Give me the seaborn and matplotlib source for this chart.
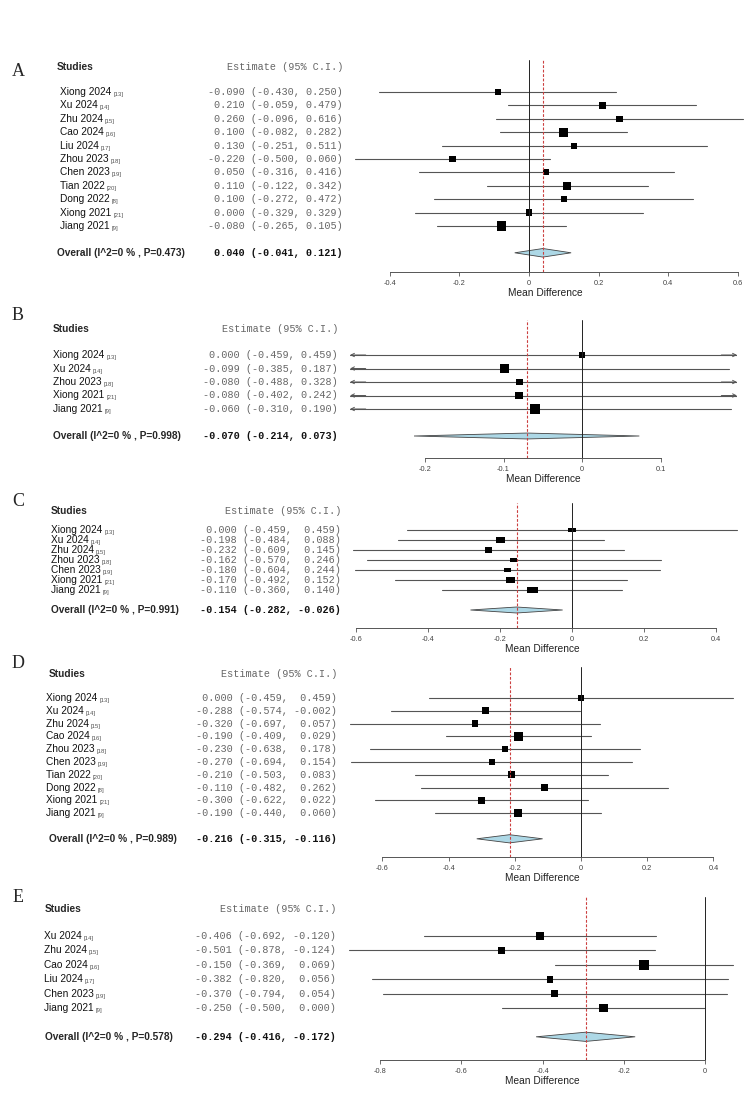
import matplotlib
matplotlib.use("Agg")
import matplotlib.pyplot as plt
from matplotlib import transforms
from matplotlib.patches import Polygon
from matplotlib.markers import MarkerStyle
import pandas as pd
import seaborn as sns

sns.set_theme(style="white")
plt.rcParams['font.family'] = ['Liberation Sans', 'DejaVu Sans']

# ---- panel A ----
a_studies = ['Xiong 2024', 'Xu 2024', 'Zhu 2024', 'Cao 2024', 'Liu 2024', 'Zhou 2023',
             'Chen 2023', 'Tian 2022', 'Dong 2022', 'Xiong 2021', 'Jiang 2021']
a_refs = ['13', '14', '15', '16', '17', '18', '19', '20', '8', '21', '9']
a_est = [-0.090, 0.210, 0.260, 0.100, 0.130, -0.220, 0.050, 0.110, 0.100, 0.000, -0.080]
a_lo = [-0.430, -0.059, -0.096, -0.082, -0.251, -0.500, -0.316, -0.122, -0.272, -0.329, -0.265]
a_hi = [0.250, 0.479, 0.616, 0.282, 0.511, 0.060, 0.416, 0.342, 0.472, 0.329, 0.105]
a_overall = [0.040, -0.041, 0.121]
a_p = 0.473
a_ticks = [-0.4, -0.2, 0, 0.2, 0.4, 0.6]

# ---- panel B ----
b_studies = ['Xiong 2024', 'Xu 2024', 'Zhou 2023', 'Xiong 2021', 'Jiang 2021']
b_refs = ['13', '14', '18', '21', '9']
b_est = [0.000, -0.099, -0.080, -0.080, -0.060]
b_lo = [-0.459, -0.385, -0.488, -0.402, -0.310]
b_hi = [0.459, 0.187, 0.328, 0.242, 0.190]
b_overall = [-0.070, -0.214, 0.073]
b_p = 0.998
b_ticks = [-0.2, -0.1, 0, 0.1]

# ---- panel C ----
c_studies = ['Xiong 2024', 'Xu 2024', 'Zhu 2024', 'Zhou 2023', 'Chen 2023', 'Xiong 2021', 'Jiang 2021']
c_refs = ['13', '14', '15', '18', '19', '21', '9']
c_est = [0.000, -0.198, -0.232, -0.162, -0.180, -0.170, -0.110]
c_lo = [-0.459, -0.484, -0.609, -0.570, -0.604, -0.492, -0.360]
c_hi = [0.459, 0.088, 0.145, 0.246, 0.244, 0.152, 0.140]
c_overall = [-0.154, -0.282, -0.026]
c_p = 0.991
c_ticks = [-0.6, -0.4, -0.2, 0, 0.2, 0.4]

# ---- panel D ----
d_studies = ['Xiong 2024', 'Xu 2024', 'Zhu 2024', 'Cao 2024', 'Zhou 2023', 'Chen 2023',
             'Tian 2022', 'Dong 2022', 'Xiong 2021', 'Jiang 2021']
d_refs = ['13', '14', '15', '16', '18', '19', '20', '8', '21', '9']
d_est = [0.000, -0.288, -0.320, -0.190, -0.230, -0.270, -0.210, -0.110, -0.300, -0.190]
d_lo = [-0.459, -0.574, -0.697, -0.409, -0.638, -0.694, -0.503, -0.482, -0.622, -0.440]
d_hi = [0.459, -0.002, 0.057, 0.029, 0.178, 0.154, 0.083, 0.262, 0.022, 0.060]
d_overall = [-0.216, -0.315, -0.116]
d_p = 0.989
d_ticks = [-0.6, -0.4, -0.2, 0, 0.2, 0.4]

# ---- panel E ----
e_studies = ['Xu 2024', 'Zhu 2024', 'Cao 2024', 'Liu 2024', 'Chen 2023', 'Jiang 2021']
e_refs = ['14', '15', '16', '17', '19', '9']
e_est = [-0.406, -0.501, -0.150, -0.382, -0.370, -0.250]
e_lo = [-0.692, -0.878, -0.369, -0.820, -0.794, -0.500]
e_hi = [-0.120, -0.124, 0.069, 0.056, 0.054, 0.000]
e_overall = [-0.294, -0.416, -0.172]
e_p = 0.578
e_ticks = [-0.8, -0.6, -0.4, -0.2, 0]

W, H = 750, 1107
fig = plt.figure(figsize=(W / 100, H / 100), dpi=100)
fig.patch.set_facecolor('white')

SQUARE = MarkerStyle('s')
WIDE = MarkerStyle([(-1, -0.65), (1, -0.65), (1, 0.65), (-1, 0.65), (-1, -0.65)])


def forest(letter, studies, refs, est, lo, hi, overall, p, ticks, lay):
    top, axis, row0, step = lay['top'], lay['axis'], lay['row0'], lay['step']
    x0, scale, left, right = lay['x0'], lay['scale'], lay['left'], lay['right']
    ax = fig.add_axes([left / W, 1 - axis / H, (right - left) / W, (axis - top) / H])
    ax.set_facecolor('none')
    n = len(studies)
    rows = list(range(n))
    xmin, xmax = (left - x0) / scale, (right - x0) / scale

    # box size from inverse-variance weights
    wts = [1 / ((h - l) / 3.92) ** 2 for l, h in zip(lo, hi)]
    df = pd.DataFrame({'est': est, 'row': rows, 'w': wts})
    sns.scatterplot(data=df, x='est', y='row', size='w', sizes=lay['sizes'],
                    marker=lay.get('marker', SQUARE), color='black', edgecolor='black',
                    linewidth=0, legend=False, ax=ax, zorder=4)

    for r, l, h in zip(rows, lo, hi):
        cl, ch = max(l, xmin), min(h, xmax)
        ax.plot([cl, ch], [r, r], color='#555555', lw=0.8, zorder=2)
        if lay.get('arrows'):
            if l < xmin:
                ax.annotate('', xy=(xmin, r), xytext=(xmin + 0.02, r),
                            arrowprops=dict(arrowstyle='->', lw=0.7, color='#555555',
                                            mutation_scale=6, shrinkA=0, shrinkB=0))
            if h > xmax:
                ax.annotate('', xy=(xmax, r), xytext=(xmax - 0.02, r),
                            arrowprops=dict(arrowstyle='->', lw=0.7, color='#555555',
                                            mutation_scale=6, shrinkA=0, shrinkB=0))

    oe, ol, oh = overall
    ro = n + 1
    hd = lay['dh']
    ax.add_patch(Polygon([(ol, ro), (oe, ro - hd), (oh, ro), (oe, ro + hd)], closed=True,
                         facecolor='#ADD8E6', edgecolor='#444444', lw=0.6, zorder=3))
    ax.axvline(0, color='#222222', lw=0.7, zorder=5)
    ax.axvline(oe, color='#CC4040', lw=0.8, ls=(0, (2.5, 1.5)), zorder=6)

    ax.set_xlim(xmin, xmax)
    ax.set_ylim((axis - row0) / step, (top - row0) / step)
    ax.set_yticks([])
    ax.set_xticks(ticks)
    ax.set_xticklabels([f'{t:g}' for t in ticks])
    for s in ['left', 'top', 'right']:
        ax.spines[s].set_visible(False)
    ax.spines['bottom'].set_bounds(ticks[0], ticks[-1])
    ax.spines['bottom'].set_color('#555555')
    ax.spines['bottom'].set_linewidth(0.7)
    ax.tick_params(axis='x', bottom=True, direction='out', length=3, width=0.6,
                   color='#555555', labelsize=5.3, labelcolor='#444444', pad=2.5)
    ax.set_ylabel('')
    ax.set_xlabel('Mean Difference', fontsize=7.3, color='#222222', labelpad=1)

    # table on the left
    tr = transforms.blended_transform_factory(fig.transFigure, ax.transData)
    fmt = '{:6.3f} ({:6.3f}, {:6.3f})' if lay['pad'] else '{:.3f} ({:.3f}, {:.3f})'
    fig.text(18 / W, 1 - lay['letter_y'] / H, letter, family='Liberation Serif',
             fontsize=13, ha='center', va='center')
    ax.text(lay['head_x'] / W, -1.9, 'Studies', transform=tr, fontsize=7.3,
            fontweight='bold', va='center', ha='left', clip_on=False)
    ax.text(lay['est_x'] / W, -1.9, 'Estimate (95% C.I.)', transform=tr, fontsize=7.3,
            family='Liberation Mono', color='#666666', va='center', ha='right', clip_on=False)
    for r, name, ref, e, l, h in zip(rows, studies, refs, est, lo, hi):
        t = ax.text(lay['name_x'] / W, r, name, transform=tr, fontsize=7.3,
                    color='#111111', va='center', ha='left', clip_on=False)
        ax.annotate(f'[{ref}]', xy=(1, 0), xycoords=t, xytext=(1.5, 0),
                    textcoords='offset points', fontsize=4.3, color='#555555',
                    va='bottom', ha='left', annotation_clip=False)
        ax.text(lay['est_x'] / W, r, fmt.format(e, l, h), transform=tr, fontsize=7.3,
                family='Liberation Mono', color='#666666', va='center', ha='right',
                clip_on=False)
    ax.text(lay['head_x'] / W, ro, f'Overall (I^2=0 % , P={p:.3f})', transform=tr,
            fontsize=7.3, fontweight='bold', va='center', ha='left', clip_on=False)
    ax.text(lay['est_x'] / W, ro, fmt.format(oe, ol, oh), transform=tr, fontsize=7.3,
            family='Liberation Mono', fontweight='bold', color='#111111', va='center',
            ha='right', clip_on=False)
    return ax


layouts = {
    'A': dict(top=60, axis=272, row0=92, step=13.4, x0=529, scale=348, left=345, right=745,
              name_x=60, head_x=57, est_x=343, letter_y=72, pad=False, dh=0.32,
              sizes=(18, 44)),
    'B': dict(top=320, axis=458, row0=355, step=13.5, x0=582, scale=785, left=350, right=737,
              name_x=53, head_x=53, est_x=338, letter_y=316, pad=False, dh=0.22,
              sizes=(22, 46), arrows=True),
    'C': dict(top=503, axis=628, row0=530, step=10.0, x0=572, scale=360, left=340, right=745,
              name_x=51, head_x=51, est_x=341, letter_y=502, pad=True, dh=0.3,
              sizes=(26, 56), marker=WIDE),
    'D': dict(top=667, axis=857, row0=698, step=12.8, x0=581, scale=331, left=340, right=745,
              name_x=46, head_x=49, est_x=337, letter_y=663, pad=True, dh=0.32,
              sizes=(17, 40)),
    'E': dict(top=897, axis=1060, row0=936, step=14.4, x0=705, scale=406, left=340, right=745,
              name_x=44, head_x=45, est_x=336, letter_y=897, pad=True, dh=0.32,
              sizes=(24, 48)),
}

forest('A', a_studies, a_refs, a_est, a_lo, a_hi, a_overall, a_p, a_ticks, layouts['A'])
forest('B', b_studies, b_refs, b_est, b_lo, b_hi, b_overall, b_p, b_ticks, layouts['B'])
forest('C', c_studies, c_refs, c_est, c_lo, c_hi, c_overall, c_p, c_ticks, layouts['C'])
forest('D', d_studies, d_refs, d_est, d_lo, d_hi, d_overall, d_p, d_ticks, layouts['D'])
forest('E', e_studies, e_refs, e_est, e_lo, e_hi, e_overall, e_p, e_ticks, layouts['E'])

fig.savefig('out.png', dpi=100, facecolor='white')
